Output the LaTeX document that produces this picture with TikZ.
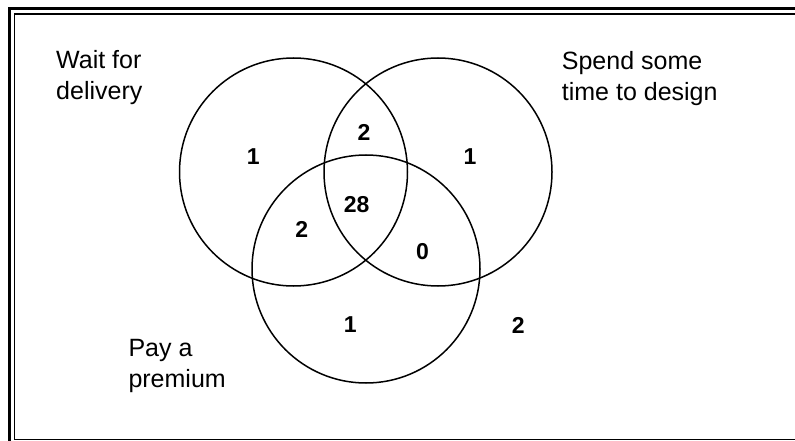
\documentclass[tikz,border=0pt]{standalone}
\usepackage{fontspec}
\setmainfont{Liberation Sans}

\begin{document}
\begin{tikzpicture}[x=1pt,y=-1pt,
    setring/.style={draw, circle, line width=1.5pt, minimum size=228pt, inner sep=0pt},
    setcount/.style={font=\fontsize{23}{27}\selectfont\bfseries},
    setname/.style={anchor=north west, inner sep=0pt, align=left,
      font=\fontsize{25}{31}\selectfont}]
  \useasboundingbox (0,0) rectangle (795,441);
  \clip (0,0) rectangle (795,441);
  % frame
  \draw[line width=3pt] (9.5,450) -- (9.5,8.5) -- (800,8.5);
  \draw[line width=1.5pt] (800,439.3) -- (14.5,439.3) -- (14.5,14) -- (800,14);
  % the three sets
  \node[setring] (wait) at (293.5,172) {};
  \node[setring] (design) at (438,172) {};
  \node[setring] (premium) at (366,269) {};
  \node[setname] (waitname) at (56,50.3) {Wait for\\delivery};
  \node[setname] (designname) at (561.7,51.3) {Spend some\\time to design};
  \node[setname] (premiumname) at (128.3,339.4) {Pay a\\premium};
  % counts
  \node[setcount] (nw) at (253.3,156.7) {1};
  \node[setcount] (nd) at (470,157) {1};
  \node[setcount] (np) at (350.3,325) {1};
  \node[setcount] (nwd) at (364,132.3) {2};
  \node[setcount] (nwp) at (301.7,229) {2};
  \node[setcount] (ndp) at (422.5,252) {0};
  \node[setcount] (nall) at (356.7,204.3) {28};
  \node[setcount] (nnone) at (518.3,325) {2};
\end{tikzpicture}
\end{document}
